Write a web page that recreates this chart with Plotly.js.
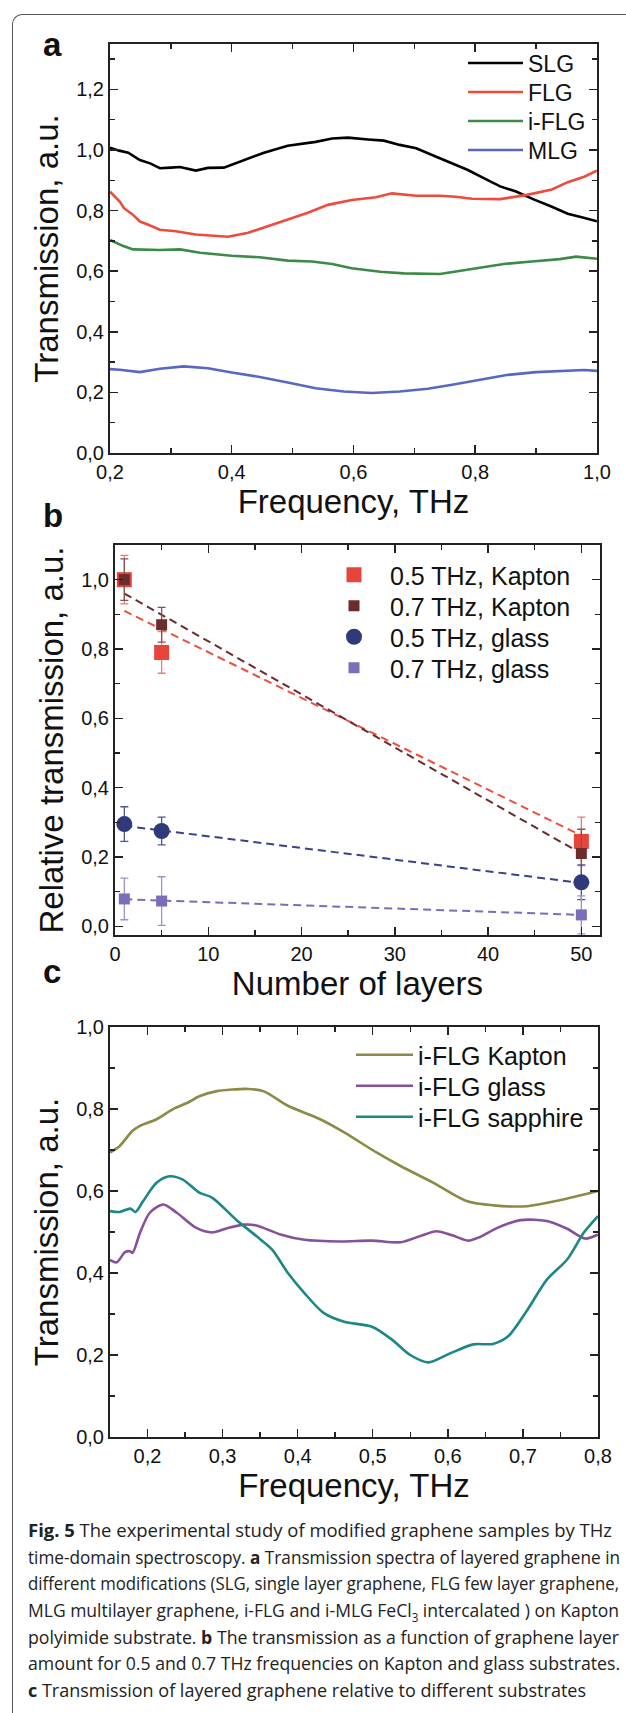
<!DOCTYPE html>
<html><head><meta charset="utf-8">
<script src="https://cdn.plot.ly/plotly-3.0.1.min.js"></script>
<style>
html,body{margin:0;padding:0;background:#fff;}
body{width:626px;height:1713px;position:relative;overflow:hidden;}
#frame{position:absolute;left:12px;top:14px;width:700px;height:1800px;border-left:1.3px solid #555;border-top:1.3px solid #555;border-top-left-radius:10px;box-sizing:border-box;}
.panel{position:absolute;left:0;width:626px;}
#pa{top:0;height:540px;}
#pb{top:480px;height:540px;}
#pc{top:940px;height:570px;}
#caption{position:absolute;left:28px;top:1517px;font-family:'Open Sans','Noto Sans',sans-serif;font-size:18px;line-height:26.67px;color:#222;}
#caption .ln{white-space:nowrap;transform-origin:0 50%;width:max-content;}
</style></head>
<body>
<div id="frame"></div>
<div id="pa" class="panel"></div>
<div id="pb" class="panel"></div>
<div id="pc" class="panel"></div>
<div id="caption">
<div class="ln" data-w="584"><b>Fig. 5</b> The experimental study of modified graphene samples by THz</div>
<div class="ln" data-w="592">time-domain spectroscopy. <b>a</b> Transmission spectra of layered graphene in</div>
<div class="ln" data-w="591">different modifications (SLG, single layer graphene, FLG few layer graphene,</div>
<div class="ln" data-w="591">MLG multilayer graphene, i-FLG and i-MLG FeCl<sub style="font-size:12px;line-height:0">3</sub> intercalated ) on Kapton</div>
<div class="ln" data-w="591">polyimide substrate. <b>b</b> The transmission as a function of graphene layer</div>
<div class="ln" data-w="592">amount for 0.5 and 0.7 THz frequencies on Kapton and glass substrates.</div>
<div class="ln" data-w="558"><b>c</b> Transmission of layered graphene relative to different substrates</div>
</div>
<script>
// ---------------- Panel a data ----------------
const slgFreq = [0.200,0.215,0.230,0.249,0.266,0.282,0.300,0.315,0.341,0.361,0.387,0.420,0.453,0.492,0.538,0.565,0.591,0.624,0.650,0.676,0.703,0.736,0.762,0.788,0.814,0.841,0.867,0.896,0.926,0.952,0.975,1.000];
const slgT    = [1.008,0.998,0.991,0.967,0.956,0.940,0.942,0.944,0.932,0.941,0.942,0.967,0.991,1.014,1.027,1.038,1.041,1.035,1.031,1.017,1.006,0.978,0.956,0.934,0.907,0.880,0.863,0.837,0.813,0.790,0.778,0.765];
const flgFreq = [0.200,0.216,0.223,0.238,0.249,0.260,0.282,0.308,0.341,0.374,0.394,0.427,0.460,0.492,0.525,0.558,0.597,0.637,0.663,0.703,0.742,0.768,0.795,0.841,0.867,0.885,0.926,0.952,0.979,1.000];
const flgT    = [0.863,0.830,0.808,0.786,0.764,0.756,0.737,0.732,0.721,0.716,0.714,0.727,0.749,0.769,0.793,0.819,0.835,0.844,0.857,0.849,0.849,0.846,0.839,0.838,0.846,0.852,0.870,0.894,0.912,0.932];
const iflgFreq = [0.200,0.222,0.238,0.282,0.315,0.348,0.400,0.446,0.492,0.532,0.565,0.597,0.644,0.683,0.742,0.795,0.847,0.893,0.939,0.966,1.000];
const iflgT    = [0.703,0.683,0.672,0.670,0.672,0.661,0.651,0.646,0.635,0.632,0.624,0.610,0.598,0.593,0.591,0.607,0.624,0.632,0.640,0.648,0.641];
const mlgFreq = [0.200,0.216,0.249,0.282,0.321,0.361,0.400,0.446,0.492,0.538,0.584,0.630,0.676,0.722,0.762,0.808,0.854,0.900,0.952,0.979,1.000];
const mlgT    = [0.277,0.275,0.267,0.278,0.286,0.280,0.266,0.251,0.233,0.214,0.203,0.198,0.203,0.212,0.225,0.242,0.258,0.267,0.271,0.274,0.271];

// ---------------- Panel b data ----------------
const layers = [1, 5, 50];
const kapton05 = [1.00, 0.79, 0.245];
const kapton05Err = [0.07, 0.06, 0.07];
const kapton07 = [1.00, 0.87, 0.21];
const kapton07Err = [0.06, 0.05, 0.07];
const glass05 = [0.295, 0.275, 0.127];
const glass05Err = [0.05, 0.04, 0.05];
const glass07 = [0.079, 0.073, 0.033];
const glass07Err = [0.06, 0.07, 0.055];
const fitLayers = [1, 50];
const fitKapton05 = [0.91, 0.262];
const fitKapton07 = [0.96, 0.21];
const fitGlass05 = [0.29, 0.125];
const fitGlass07 = [0.078, 0.033];

// ---------------- Panel c data ----------------
const kaptonFreq = [0.150,0.163,0.180,0.190,0.212,0.234,0.254,0.269,0.291,0.334,0.355,0.387,0.430,0.462,0.505,0.537,0.581,0.626,0.661,0.706,0.750,0.800];
const kaptonT    = [0.694,0.710,0.747,0.759,0.775,0.800,0.816,0.831,0.843,0.849,0.843,0.808,0.775,0.743,0.694,0.661,0.620,0.575,0.565,0.563,0.578,0.600];
const glassFreq = [0.150,0.159,0.170,0.177,0.180,0.190,0.203,0.221,0.239,0.265,0.286,0.307,0.329,0.345,0.377,0.409,0.457,0.499,0.537,0.563,0.585,0.606,0.627,0.643,0.666,0.697,0.732,0.759,0.783,0.800];
const glassT    = [0.432,0.426,0.451,0.453,0.449,0.498,0.547,0.567,0.547,0.510,0.499,0.510,0.518,0.516,0.494,0.481,0.477,0.479,0.475,0.490,0.502,0.492,0.479,0.488,0.510,0.529,0.527,0.508,0.484,0.494];
const sapphireFreq = [0.150,0.163,0.177,0.184,0.194,0.212,0.229,0.247,0.269,0.286,0.318,0.345,0.366,0.387,0.409,0.435,0.462,0.499,0.526,0.550,0.574,0.603,0.634,0.660,0.680,0.706,0.732,0.759,0.781,0.800];
const sapphireT    = [0.551,0.549,0.557,0.549,0.575,0.620,0.636,0.628,0.596,0.584,0.530,0.490,0.457,0.400,0.351,0.302,0.281,0.269,0.237,0.200,0.182,0.204,0.226,0.227,0.245,0.310,0.384,0.433,0.498,0.539];

// ---------------- styling ----------------
const FONT = 'Liberation Sans, Arial, Helvetica, sans-serif';
const AX = '#222';
const cfg = {staticPlot: true, displayModeBar: false};

function axis(extra) {
  return Object.assign({
    showgrid: false, zeroline: false, showline: true, linewidth: 2, linecolor: AX,
    mirror: 'ticks', ticks: 'inside', ticklen: 8, tickwidth: 1.5, tickcolor: AX,
    tickfont: {family: FONT, size: 20, color: '#111'},
    automargin: false, fixedrange: true
  }, extra);
}
function minor(d) { return {dtick: d, ticks: 'inside', ticklen: 5, tickwidth: 1.5, tickcolor: AX}; }
function base(extra) {
  return Object.assign({
    width: 626, paper_bgcolor: 'rgba(0,0,0,0)', plot_bgcolor: 'rgba(0,0,0,0)',
    showlegend: true, separators: ', ', font: {family: FONT, color: '#111'}
  }, extra);
}
function line(x, y, name, color, leg, shape) {
  return {x: x, y: y, name: name, type: 'scatter', mode: 'lines', legend: leg, showlegend: true,
          line: {color: color, width: 2.6, shape: shape || 'linear', smoothing: 0.8}};
}
// geometry helper: page px -> paper coordinates of a panel
function geo(top, h, m) {
  const pw = 626 - m.l - m.r, ph = h - m.t - m.b;
  return {
    px: function (X) { return (X - m.l) / pw; },
    py: function (Y) { return 1 - (Y - top - m.t) / ph; }
  };
}
function legendAt(x, y, size, itemwidth) {
  return {visible: true, x: x, xanchor: 'left', y: y, yanchor: 'middle', bgcolor: 'rgba(0,0,0,0)', borderwidth: 0,
          itemwidth: itemwidth, font: {family: FONT, size: size, color: '#111'}};
}
function panelLabel(t, x, y) {
  return {text: '<b>' + t + '</b>', xref: 'paper', yref: 'paper', showarrow: false, x: x, y: y,
          xanchor: 'center', yanchor: 'middle', font: {family: FONT, size: 33, color: '#111'}};
}
function titled(t) { return {text: t, font: {family: FONT, size: 33, color: '#111'}}; }

// ---------- Panel a ----------
const MA = {l: 110, r: 29, t: 44, b: 87}, HA = 540, GA = geo(0, HA, MA);
const lxA = GA.px(463);
Plotly.newPlot('pa', [
  line(slgFreq, slgT, 'SLG', '#000000', 'legend'),
  line(flgFreq, flgT, 'FLG', '#ef4a3c', 'legend2'),
  line(iflgFreq, iflgT, 'i-FLG', '#3b8a48', 'legend3'),
  line(mlgFreq, mlgT, 'MLG', '#5868c2', 'legend4')
], base({
  height: HA, margin: Object.assign({pad: 0}, MA),
  xaxis: axis({range: [0.2, 1.0001], dtick: 0.2, tick0: 0, tickformat: '.1f', minor: minor(0.1),
               title: Object.assign(titled('Frequency, THz'), {standoff: 6})}),
  yaxis: axis({range: [0, 1.35], dtick: 0.2, tick0: 0, tickformat: '.1f', minor: minor(0.1),
               title: Object.assign(titled('Transmission, a.u.'), {standoff: 8})}),
  legend: legendAt(lxA, GA.py(63), 23, 55),
  legend2: legendAt(lxA, GA.py(92), 23, 55),
  legend3: legendAt(lxA, GA.py(121), 23, 55),
  legend4: legendAt(lxA, GA.py(150), 23, 55),
  annotations: [panelLabel('a', GA.px(52), GA.py(44))]
}), cfg);

// ---------- Panel b ----------
const MB = {l: 115, r: 26, t: 65, b: 85}, HB = 540, GB = geo(480, HB, MB);
const lxB = GB.px(318);
function fit(y, color) {
  return {x: fitLayers, y: y, type: 'scatter', mode: 'lines', showlegend: false,
          line: {color: color, width: 2, dash: '8px,5px'}};
}
function pts(y, err, name, color, ecolor, symbol, size, leg) {
  return {x: layers, y: y, name: name, type: 'scatter', mode: 'markers', legend: leg, showlegend: true,
          marker: {color: color, symbol: symbol, size: size, line: {width: 0}},
          error_y: {type: 'data', array: err, visible: true, color: ecolor, thickness: 1.3, width: 4}};
}
Plotly.newPlot('pb', [
  fit(fitKapton05, '#f04c3e'),
  fit(fitKapton07, '#6b2c2e'),
  fit(fitGlass05, '#3a4288'),
  fit(fitGlass07, '#7d6bbb'),
  pts(kapton05, kapton05Err, '0.5 THz, Kapton', '#e8453a', '#f07a70', 'square', 15, 'legend'),
  pts(kapton07, kapton07Err, '0.7 THz, Kapton', '#6b2c2e', '#8c5050', 'square', 11, 'legend2'),
  pts(glass05, glass05Err, '0.5 THz, glass', '#2f3a7a', '#4b5699', 'circle', 16, 'legend3'),
  pts(glass07, glass07Err, '0.7 THz, glass', '#7d6bbb', '#9d90d2', 'square', 11, 'legend4')
], base({
  height: HB, margin: Object.assign({pad: 0}, MB),
  xaxis: axis({range: [0, 52], dtick: 10, tick0: 0, minor: minor(5),
               title: Object.assign(titled('Number of layers'), {standoff: 4})}),
  yaxis: axis({range: [-0.025, 1.1], dtick: 0.2, tick0: 0, tickformat: '.1f', minor: minor(0.1),
               title: Object.assign(titled('Relative transmission, a.u.'), {standoff: 8})}),
  legend: legendAt(lxB, GB.py(575), 25, 62),
  legend2: legendAt(lxB, GB.py(606), 25, 62),
  legend3: legendAt(lxB, GB.py(637), 25, 62),
  legend4: legendAt(lxB, GB.py(668), 25, 62),
  annotations: [panelLabel('b', GB.px(53), GB.py(515))]
}), cfg);

// ---------- Panel c ----------
const MC = {l: 110, r: 28, t: 87, b: 73}, HC = 570, GC = geo(940, HC, MC);
const lxC = GC.px(351);
Plotly.newPlot('pc', [
  line(kaptonFreq, kaptonT, 'i-FLG Kapton', '#8b8a46', 'legend', 'spline'),
  line(glassFreq, glassT, 'i-FLG glass', '#87509a', 'legend2', 'spline'),
  line(sapphireFreq, sapphireT, 'i-FLG sapphire', '#1d8686', 'legend3', 'spline')
], base({
  height: HC, margin: Object.assign({pad: 0}, MC),
  xaxis: axis({range: [0.15, 0.8001], dtick: 0.1, tick0: 0, tickformat: '.1f', minor: minor(0.05),
               title: Object.assign(titled('Frequency, THz'), {standoff: 4})}),
  yaxis: axis({range: [0, 1.0001], dtick: 0.2, tick0: 0, tickformat: '.1f', minor: minor(0.1),
               title: Object.assign(titled('Transmission, a.u.'), {standoff: 8})}),
  legend: legendAt(lxC, GC.py(1055), 25, 57),
  legend2: legendAt(lxC, GC.py(1086), 25, 57),
  legend3: legendAt(lxC, GC.py(1117), 25, 57),
  annotations: [panelLabel('c', GC.px(52), GC.py(972))]
}), cfg);

// fit caption lines to their measured widths
document.querySelectorAll('#caption .ln').forEach(function (el) {
  const w = el.getBoundingClientRect().width;
  const target = +el.dataset.w;
  if (w > 0) el.style.transform = 'scaleX(' + (target / w).toFixed(4) + ')';
});
</script>
</body></html>
